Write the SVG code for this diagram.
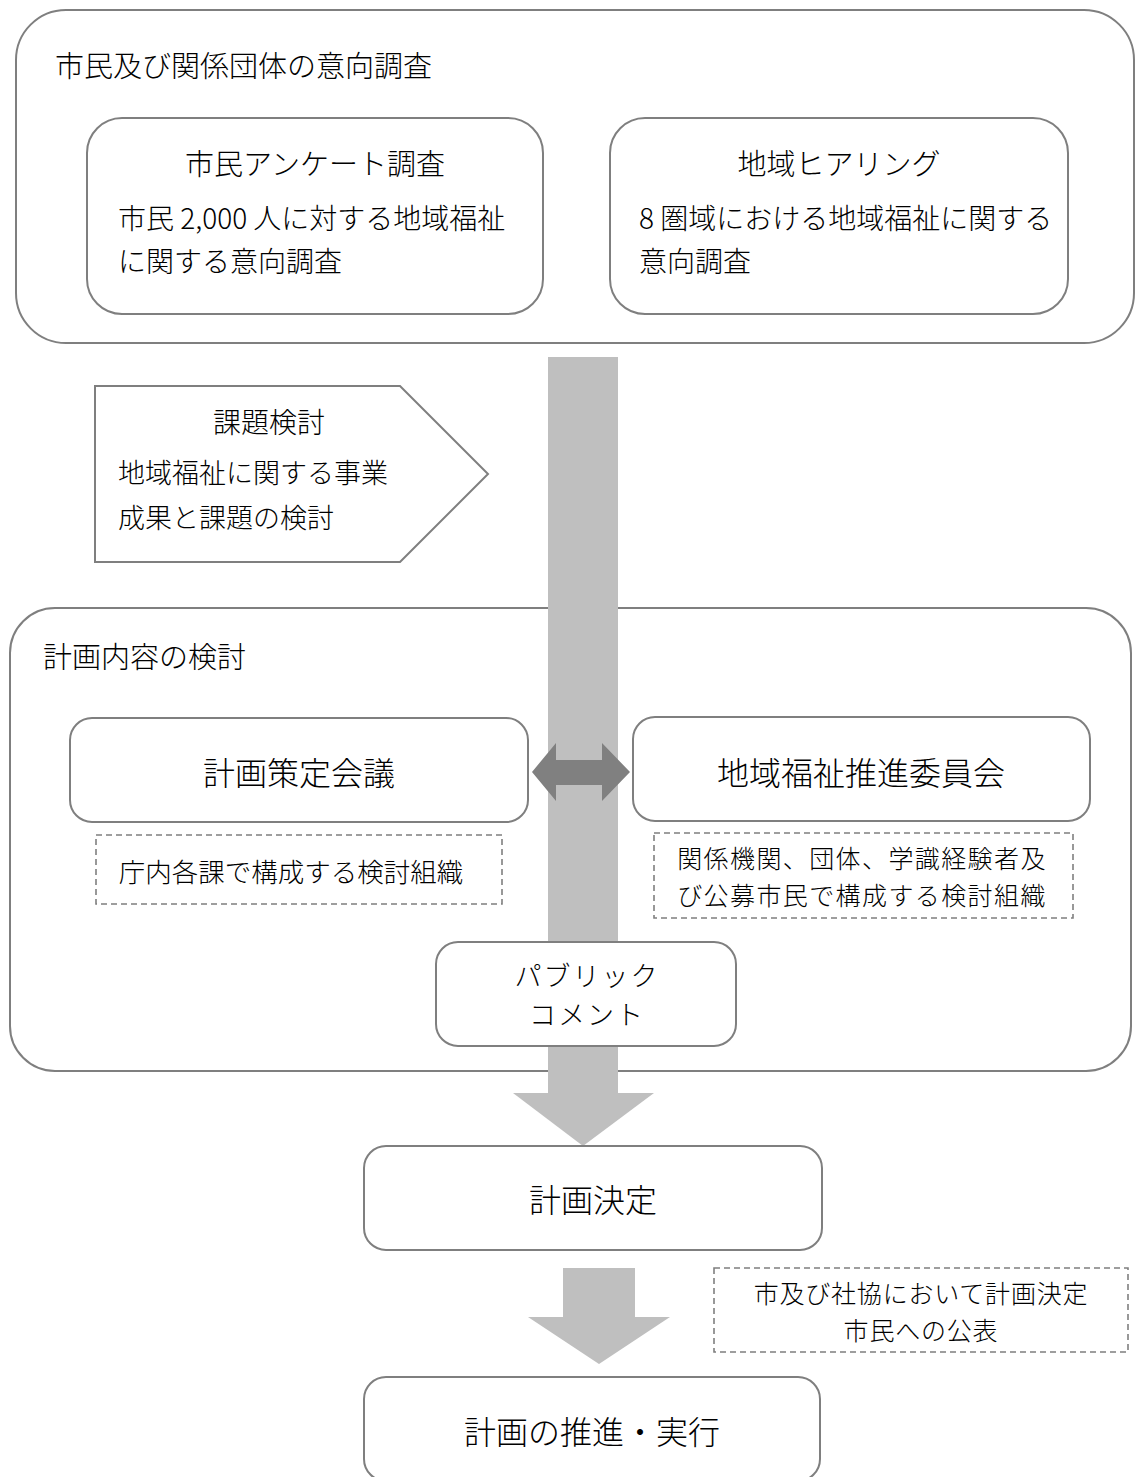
<svg xmlns="http://www.w3.org/2000/svg" width="1136" height="1477" viewBox="0 0 1136 1477">
<style>
.frame{fill:#ffffff;stroke:#7f7f7f;stroke-width:2}
.dash{fill:#ffffff;stroke:#7f7f7f;stroke-width:1.6;stroke-dasharray:6 4}
.flow{fill:#bfbfbf}
.dark{fill:#808080}
text{font-family:"Noto Sans CJK JP","Noto Sans",sans-serif;fill:#000000;dominant-baseline:central;font-weight:300}
.t28{font-size:28px}
.t29{font-size:29px}
.t27{font-size:27px}
.t32{font-size:32px}
.m{font-size:26.5px;font-weight:200}
.m2{font-size:25px;font-weight:200}
.c{text-anchor:middle}
</style>
<rect width="1136" height="1477" fill="#ffffff"/>

<g id="survey-group">
<rect class="frame" x="16" y="10" width="1118" height="333" rx="50"/>
<text class="t29" x="55" y="64">市民及び関係団体の意向調査</text>
</g>
<g id="citizen-survey">
<rect class="frame" x="87" y="118" width="456" height="196" rx="35"/>
<text class="t29 c" x="315" y="162">市民アンケート調査</text>
<text class="t28" x="118" y="217">市民 2,000 人に対する地域福祉</text>
<text class="t28" x="118" y="260">に関する意向調査</text>
</g>
<g id="area-hearing">
<rect class="frame" x="610" y="118" width="458" height="196" rx="35"/>
<text class="t29 c" x="839" y="162">地域ヒアリング</text>
<text class="t28" x="639" y="217">8 圏域における地域福祉に関する</text>
<text class="t28" x="639" y="260">意向調査</text>
</g>

<g id="issues">
<polygon class="frame" points="95,386 400,386 488,474 400,562 95,562"/>
<text class="t28 c" x="269" y="421">課題検討</text>
<text class="t27" x="118" y="471">地域福祉に関する事業</text>
<text class="t27" x="118" y="516">成果と課題の検討</text>
</g>

<g id="plan-review">
<rect class="frame" x="10" y="608" width="1121" height="463" rx="45"/>
<text class="t29" x="43" y="655">計画内容の検討</text>
</g>

<g id="connectors">
<rect class="flow" x="548" y="357" width="70" height="737"/>
<polygon class="flow" points="513,1093 654,1093 583,1146"/>
<polygon class="dark" points="532,772 556,743 556,760 602,760 602,743 630,772 602,801 602,785 556,785 556,801"/>
<polygon class="flow" points="563,1268 635,1268 635,1317 670,1317 599,1364 528,1317 563,1317"/>
</g>

<g id="planning-meeting">
<rect class="frame" x="70" y="718" width="458" height="104" rx="22"/>
<text class="t32 c" x="299" y="771">計画策定会議</text>
</g>
<g id="planning-meeting-note">
<rect class="dash" x="96" y="835" width="406" height="69"/>
<text class="m c" x="291" y="870">庁内各課で構成する検討組織</text>
</g>
<g id="welfare-committee">
<rect class="frame" x="633" y="717" width="457" height="104" rx="22"/>
<text class="t32 c" x="861" y="771">地域福祉推進委員会</text>
</g>
<g id="welfare-committee-note">
<rect class="dash" x="654" y="833" width="419" height="85"/>
<text class="m2 c" x="862" y="857" letter-spacing="1.4">関係機関、団体、学識経験者及</text>
<text class="m2 c" x="862" y="894" letter-spacing="1.4">び公募市民で構成する検討組織</text>
</g>
<g id="public-comment">
<rect class="frame" x="436" y="942" width="300" height="104" rx="22"/>
<text class="t27 c" x="587" y="974" letter-spacing="2">パブリック</text>
<text class="t27 c" x="587" y="1013" letter-spacing="2">コメント</text>
</g>

<g id="plan-decision">
<rect class="frame" x="364" y="1146" width="458" height="104" rx="22"/>
<text class="t32 c" x="593" y="1198">計画決定</text>
</g>
<g id="decision-note">
<rect class="dash" x="714" y="1268" width="414" height="84"/>
<text class="m2 c" x="921" y="1292" letter-spacing="0.8">市及び社協において計画決定</text>
<text class="m2 c" x="921" y="1329" letter-spacing="0.8">市民への公表</text>
</g>
<g id="plan-execution">
<rect class="frame" x="364" y="1377" width="456" height="104" rx="22"/>
<text class="t32 c" x="592" y="1430">計画の推進・実行</text>
</g>
</svg>
